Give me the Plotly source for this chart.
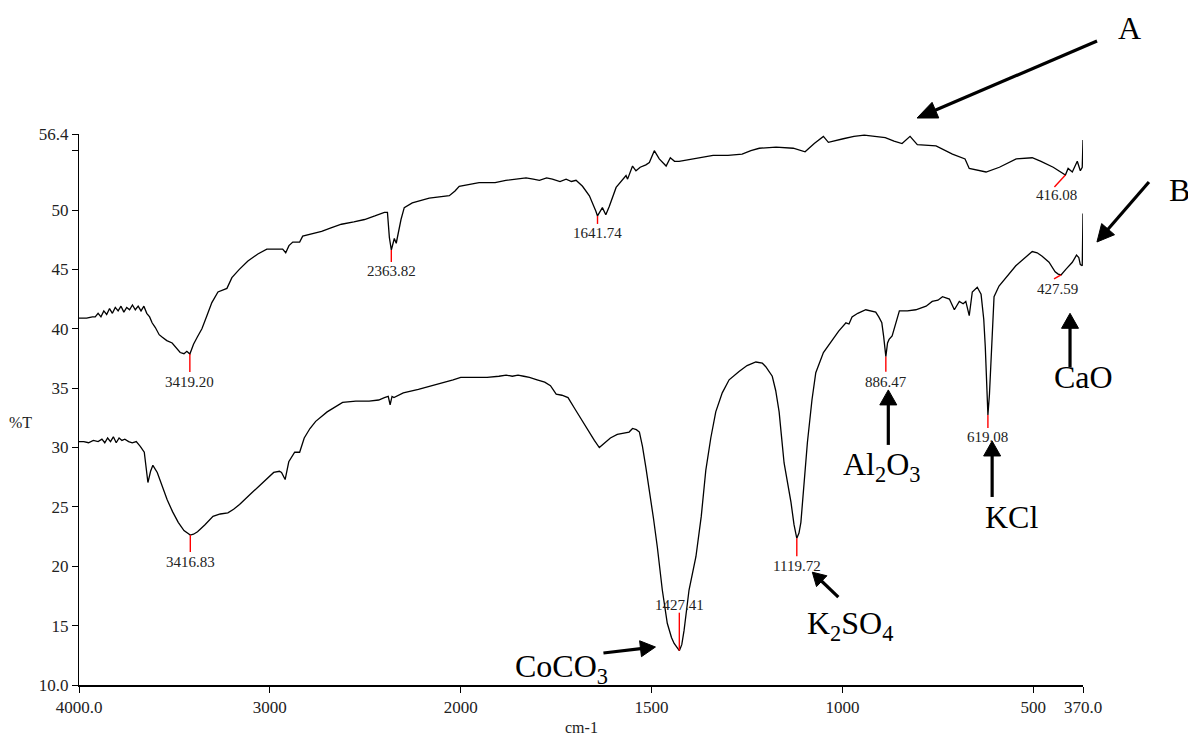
import math
import plotly.graph_objects as go

# ---------------- data (wavenumber cm-1, %T) ----------------
A_wn = [4000, 3960, 3930, 3915, 3900, 3885, 3870, 3855, 3840, 3825, 3810, 3795, 3780, 3765, 3750, 3735,
        3720, 3705, 3690, 3675, 3660, 3645, 3630, 3617, 3600, 3580, 3565, 3540, 3512, 3490, 3470, 3450,
        3435, 3419.2, 3400, 3380, 3356, 3330, 3304, 3272, 3240, 3225, 3199, 3160, 3115, 3063, 3016, 2970,
        2933, 2917, 2900, 2880, 2844, 2828, 2780, 2729, 2680, 2625, 2560, 2504, 2450, 2400, 2384, 2374,
        2363.82, 2348, 2338, 2313, 2296, 2254, 2165, 2100, 2060, 2030, 2008, 1952, 1910, 1882, 1855, 1829,
        1810, 1794, 1775, 1760, 1740, 1724, 1710, 1698, 1681, 1663, 1646, 1641.74, 1629, 1620, 1611, 1593,
        1567, 1563, 1550, 1541, 1530, 1515, 1506, 1493, 1480, 1462, 1451, 1440, 1428, 1396, 1370, 1339,
        1300, 1263, 1240, 1218, 1174, 1129, 1098, 1074, 1050, 1037, 998, 970, 943, 915, 888, 865, 844,
        823, 804, 755, 712, 679, 668, 624, 589, 545, 503, 480, 448, 416.08, 409, 398, 385, 377, 372, 370]
A_val = [40.9, 40.9, 41.0, 41.0, 41.3, 41.0, 41.5, 41.2, 41.7, 41.3, 41.8, 41.5, 41.9, 41.4, 41.8, 41.6,
         42.0, 41.6, 41.9, 41.5, 41.9, 41.3, 41.0, 40.5, 40.1, 39.5, 39.3, 39.0, 38.8, 38.4, 38.0, 37.9,
         38.1, 37.87, 38.7, 39.3, 40.0, 41.1, 42.2, 43.1, 43.3, 43.4, 44.3, 45.0, 45.7, 46.3, 46.7, 46.7,
         46.7, 46.4, 47.0, 47.3, 47.3, 47.8, 48.0, 48.2, 48.5, 48.8, 49.0, 49.2, 49.5, 49.8, 49.8, 47.7,
         46.63, 47.6, 47.2, 49.2, 50.2, 50.6, 51.0, 51.1, 51.2, 51.6, 52.0, 52.3, 52.3, 52.5, 52.6, 52.7,
         52.6, 52.5, 52.7, 52.6, 52.4, 52.6, 52.4, 52.5, 52.0, 51.2, 49.9, 49.5, 50.2, 49.6, 50.3, 51.9,
         52.9, 52.6, 53.7, 53.3, 53.6, 53.8, 54.0, 55.0, 54.3, 53.7, 54.4, 54.1, 54.1, 54.3, 54.4, 54.6,
         54.6, 54.7, 55.0, 55.2, 55.3, 55.2, 54.9, 55.6, 56.2, 55.7, 56.0, 56.2, 56.3, 56.2, 56.1, 55.8, 55.6,
         56.2, 55.5, 55.4, 54.7, 54.3, 53.5, 53.2, 53.6, 54.3, 54.4, 54.1, 53.6, 52.95, 53.5, 53.2, 54.1, 53.3, 53.6, 55.9]

B_wn = [4000, 3975, 3950, 3925, 3900, 3880, 3865, 3850, 3835, 3820, 3805, 3790, 3775, 3760, 3740, 3721,
        3700, 3679, 3658, 3650, 3639, 3625, 3613, 3590, 3565, 3538, 3510, 3480, 3450, 3416.83, 3400, 3379,
        3340, 3298, 3260, 3220, 3190, 3159, 3100, 3040, 3010, 2980, 2950, 2939, 2920, 2901, 2870, 2844,
        2820, 2790, 2760, 2700, 2619, 2550, 2480, 2430, 2400, 2380, 2370, 2360, 2350, 2301, 2222, 2150,
        2081, 2040, 2000, 1960, 1931, 1900, 1881, 1865, 1850, 1835, 1820, 1800, 1780, 1765, 1750, 1735,
        1719, 1700, 1685, 1668, 1650, 1637, 1620, 1608, 1590, 1575, 1559, 1550, 1540, 1532, 1524, 1515,
        1506, 1495, 1485, 1472, 1459, 1448, 1441, 1433, 1427.41, 1421, 1415, 1402, 1384, 1370, 1358, 1345,
        1332, 1315, 1297, 1271, 1250, 1227, 1210, 1201, 1184, 1175, 1166, 1160, 1153, 1135, 1127, 1119.72,
        1114, 1109, 1100, 1092, 1080, 1070, 1050, 1027, 1010, 991, 983, 975, 960, 939, 913, 905, 897, 892,
        886.47, 882, 878, 870, 860, 851, 830, 808, 781, 765, 750, 738, 720, 707, 694, 684, 677, 668, 660,
        647, 637, 630, 626, 620, 619.08, 615, 611, 603, 590, 570, 546, 525, 503, 490, 477, 459, 443, 435,
        427.59, 415, 406, 398, 387, 381, 377, 372, 370]
B_val = [30.5, 30.5, 30.4, 30.6, 30.5, 30.7, 30.4, 30.8, 30.5, 30.9, 30.4, 30.8, 30.6, 30.7, 30.5, 30.4,
         30.5, 30.1, 29.6, 28.5, 27.05, 28.0, 28.5, 27.9, 26.8, 25.6, 24.6, 23.7, 23.0, 22.63, 22.7, 22.9,
         23.5, 24.2, 24.4, 24.5, 24.8, 25.2, 26.1, 27.0, 27.5, 27.9, 28.0, 27.9, 27.3, 28.8, 29.6, 29.6,
         30.8, 31.6, 32.2, 33.0, 33.8, 33.9, 33.9, 34.0, 34.2, 34.3, 33.6, 34.3, 34.2, 34.6, 34.9, 35.2,
         35.5, 35.7, 35.9, 35.9, 35.9, 36.0, 36.1, 36.0, 36.1, 36.0, 35.9, 35.7, 35.5, 35.2, 34.5, 34.4,
         34.2, 33.2, 32.4, 31.5, 30.6, 30.0, 30.5, 30.8, 31.1, 31.2, 31.3, 31.6, 31.5, 31.3, 30.1, 28.3,
         26.5, 24.0, 21.6, 18.0, 15.2, 14.0, 13.5, 13.1, 12.89, 13.4, 14.6, 18.0, 20.8, 24.2, 28.1, 30.8,
         33.0, 34.6, 35.7, 36.4, 36.9, 37.2, 37.1, 36.8, 36.0, 34.8, 33.0, 31.0, 28.7, 25.4, 23.5, 22.35,
         22.8, 23.7, 27.0, 30.4, 34.0, 36.3, 38.0, 39.1, 39.8, 40.5, 40.4, 41.0, 41.3, 41.6, 41.4, 41.0, 40.5, 39.3,
         37.65, 38.8, 39.1, 39.4, 40.6, 41.5, 41.5, 41.6, 41.9, 42.3, 42.4, 42.7, 42.5, 41.6, 42.3, 42.1, 42.3, 41.1, 43.1,
         43.5, 42.9, 40.8, 38.5, 33.5, 32.74, 34.5, 37.2, 42.7, 43.6, 44.4, 45.3, 45.9, 46.5, 46.4, 46.1, 45.6, 44.8, 44.6,
         44.53, 45.0, 45.3, 45.6, 46.2, 46.0, 45.4, 45.3, 49.7]

peak_text = ["3419.20", "2363.82", "1641.74", "416.08",
             "3416.83", "1427.41", "1119.72", "886.47", "619.08", "427.59"]
peak_wn = [3419.20, 2363.82, 1641.74, 416.08, 3416.83, 1427.41, 1119.72, 886.47, 619.08, 427.59]
peak_val = [37.87, 46.63, 49.5, 52.95, 22.63, 12.89, 22.35, 37.65, 32.74, 44.53]

x_tick_wn = [4000, 3000, 2000, 1500, 1000, 500, 370]
x_tick_text = ["4000.0", "3000", "2000", "1500", "1000", "500", "370.0"]
y_tick_vals = [10, 15, 20, 25, 30, 35, 40, 45, 50, 56.4]
y_tick_text = ["10.0", "15", "20", "25", "30", "35", "40", "45", "50", "56.4"]
y_minor_vals = [55]

# labelled compounds (inside the plot: data coordinates)
compounds = ["CaO", "Al<sub>2</sub>O<sub>3</sub>", "KCl", "K<sub>2</sub>SO<sub>4</sub>", "CoCO<sub>3</sub>"]
compound_wn = [370, 896, 558, 980, 1737]
compound_val = [35.9, 28.36, 24.15, 15.05, 11.43]
arrow_tip_wn = [404, 880, 608, 1079, 1490]
arrow_tip_val = [41.3, 34.85, 30.55, 19.5, 13.2]
# spectrum names outside the plot area (paper coordinates)
spectra = ["A", "B"]


# IR spectrometer axis: scale halves above 2000 cm-1
def ax_x(w):
    return w if w <= 2000 else 2000 + (w - 2000) / 2.0


# ---------------- styles / layout positions ----------------
FONT = "Liberation Serif"
peak_mark = [(0, -18), (0, -12), (0, -8), (-11, -12), (0, -17), (0, 38), (0, -18), (0, -15), (0, -13), (-7, -4)]
peak_lab = [(0, -28), (0, -21), (0, -17), (-9, -20), (0, -27), (0, 46), (0, -28), (0, -25), (0, -22), (-4, -14)]
# arrow tails: pixel offsets from tip (y up); head length / half width in px
arrow_tail = [(0, -54), (0, -55), (0, -56), (26, -25), (-52, -6)]
arrow_head = [(15, 8.5), (15, 8.5), (15, 8.5), (13, 7.5), (15, 8)]
spectra_text_pos = [(1.0468, 1.1924), (1.0966, 0.8984)]
spectra_arrow_tip = [(0.8347, 1.0290), (1.0139, 0.8040)]
spectra_arrow_tail = [(180, 77), (52, 60)]
spectra_arrow_head = [(20, 8.5), (17, 8.5)]
ARROW_W = 3.2
CENTER = dict(xanchor="center", yanchor="middle", borderpad=0)


def arrow_shapes(ref_x, ref_y, ax, ay, tail, head):
    tx, ty = tail
    L, W = head
    d = math.hypot(tx, ty)
    ux, uy = tx / d, ty / d
    nx, ny = -uy, ux
    bx, by = L * ux, L * uy
    line = dict(type="line", xref=ref_x, yref=ref_y, xsizemode="pixel", ysizemode="pixel",
                xanchor=ax, yanchor=ay, x0=bx * 0.7, y0=by * 0.7, x1=tx, y1=ty,
                line=dict(color="black", width=ARROW_W))
    path = "M0,0 L{:.2f},{:.2f} L{:.2f},{:.2f} Z".format(bx + W * nx, by + W * ny, bx - W * nx, by - W * ny)
    head_shape = dict(type="path", xref=ref_x, yref=ref_y, xsizemode="pixel", ysizemode="pixel",
                      xanchor=ax, yanchor=ay, path=path, fillcolor="black",
                      line=dict(color="black", width=1))
    return [line, head_shape]


fig = go.Figure()
fig.add_trace(go.Scatter(x=[ax_x(w) for w in A_wn], y=A_val, mode="lines",
                         line=dict(color="black", width=1.3), hoverinfo="skip"))
fig.add_trace(go.Scatter(x=[ax_x(w) for w in B_wn], y=B_val, mode="lines",
                         line=dict(color="black", width=1.3), hoverinfo="skip"))

shapes = []
annotations = []
for txt, w, v, (mdx, mdy), (ldx, ldy) in zip(peak_text, peak_wn, peak_val, peak_mark, peak_lab):
    shapes.append(dict(type="line", xref="x", yref="y", xsizemode="pixel", ysizemode="pixel",
                       xanchor=ax_x(w), yanchor=v, x0=0, y0=0, x1=mdx, y1=mdy,
                       line=dict(color="red", width=1.4)))
    annotations.append(dict(x=ax_x(w), y=v, xref="x", yref="y", text=txt, showarrow=False,
                            xshift=ldx, yshift=ldy, font=dict(family=FONT, size=15, color="#222"),
                            **CENTER))

for txt, w, v in zip(compounds, compound_wn, compound_val):
    annotations.append(dict(x=ax_x(w), y=v, xref="x", yref="y", text=txt, showarrow=False,
                            font=dict(family=FONT, size=32, color="black"), **CENTER))
for w, v, tail, head in zip(arrow_tip_wn, arrow_tip_val, arrow_tail, arrow_head):
    shapes += arrow_shapes("x", "y", ax_x(w), v, tail, head)

for txt, (px, py) in zip(spectra, spectra_text_pos):
    annotations.append(dict(x=px, y=py, xref="paper", yref="paper", text=txt, showarrow=False,
                            font=dict(family=FONT, size=32, color="black"), **CENTER))
for (px, py), tail, head in zip(spectra_arrow_tip, spectra_arrow_tail, spectra_arrow_head):
    shapes += arrow_shapes("paper", "paper", px, py, tail, head)

annotations.append(dict(x=-0.058, y=0.477, xref="paper", yref="paper", text="%T", showarrow=False,
                        font=dict(family=FONT, size=16, color="#222"), **CENTER))
annotations.append(dict(x=0.5, y=-0.078, xref="paper", yref="paper", text="cm-1", showarrow=False,
                        font=dict(family=FONT, size=16, color="#222"), **CENTER))

fig.update_layout(
    width=1188, height=730,
    margin=dict(l=71, r=113, t=126, b=53),
    paper_bgcolor="white", plot_bgcolor="white",
    showlegend=False,
    shapes=shapes, annotations=annotations,
    font=dict(family=FONT, size=15, color="#222"),
)
fig.update_xaxes(range=[ax_x(4000), ax_x(370)], tickvals=[ax_x(w) for w in x_tick_wn],
                 ticktext=x_tick_text, showgrid=False, zeroline=False, showline=True,
                 linecolor="black", linewidth=1.5, ticks="outside", ticklen=6, tickcolor="black",
                 tickfont=dict(family=FONT, size=17, color="#222"))
fig.update_yaxes(range=[10, 56.4], tickvals=y_tick_vals, ticktext=y_tick_text, showgrid=False,
                 zeroline=False, showline=True, linecolor="black", linewidth=1.3, ticks="outside",
                 ticklen=6, tickcolor="black", tickfont=dict(family=FONT, size=17, color="#222"),
                 minor=dict(tickvals=y_minor_vals, ticks="outside", ticklen=6, tickcolor="black",
                            showgrid=False))

fig.write_html("out.html", config={"displayModeBar": False})
